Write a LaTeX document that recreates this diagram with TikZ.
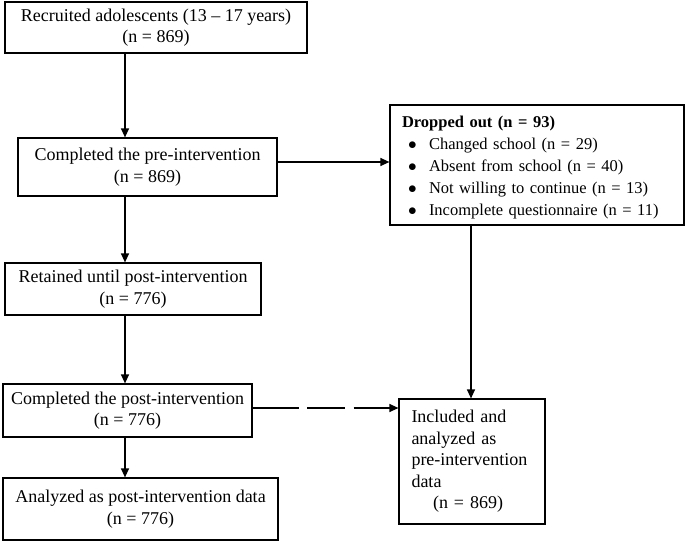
\documentclass[tikz,border=0pt]{standalone}
\usepackage{fontspec}
\setmainfont{Liberation Serif}
\usetikzlibrary{arrows.meta}
\begin{document}
\begin{tikzpicture}[x=1pt,y=-1pt,
  box/.style={draw,line width=1.2pt,inner sep=0pt,align=center,font=\fontsize{18}{21.5}\selectfont},
  arr/.style={line width=1.2pt,-{Triangle[length=9pt,width=8pt]}}]
\useasboundingbox (0,0) rectangle (685,541);
\node[box,minimum width=302pt,minimum height=51pt] (b1) at (156,27.5) {Recruited adolescents (13 -- 17 years)\\(n = 869)};
\node[box,minimum width=259pt,minimum height=58pt] (b2) at (147.5,167) {Completed the pre-intervention\\(n = 869)};
\node[box,minimum width=256pt,minimum height=52pt] (b3) at (133,289) {Retained until post-intervention\\(n = 776)};
\node[box,minimum width=249pt,minimum height=53pt] (b4) at (127.5,410.5) {Completed the post-intervention\\(n = 776)};
\node[box,minimum width=275pt,minimum height=62pt] (b5) at (140.5,509) {Analyzed as post-intervention data\\(n = 776)};
\node[box,minimum width=294pt,minimum height=120pt] (drop) at (537,165) {};
\node[inner sep=0pt,align=left,text width=270pt,font=\fontsize{16.5}{22}\selectfont] (droptext) at (537,167.5)
{\textbf{Dropped out (n = 93)}\\
\hspace*{6pt}\makebox[21pt][l]{$\bullet$}Changed school (n = 29)\\
\hspace*{6pt}\makebox[21pt][l]{$\bullet$}Absent from school (n = 40)\\
\hspace*{6pt}\makebox[21pt][l]{$\bullet$}Not willing to continue (n = 13)\\
\hspace*{6pt}\makebox[21pt][l]{$\bullet$}Incomplete questionnaire (n = 11)};
\node[box,minimum width=146pt,minimum height=125pt,align=left,text width=121pt,inner xsep=12.5pt] (inc) at (472,461.5)
{Included and\\analyzed as\\pre-intervention\\data\\\hspace*{21.5pt}(n = 869)};
\coordinate (ax) at (125,0);
\coordinate (dx) at (471,0);
\coordinate (hy) at (0,162);
\coordinate (dy) at (0,408);
\draw[arr] (b1.south -| ax) -- (b2.north -| ax);
\draw[arr] (b2.south -| ax) -- (b3.north -| ax);
\draw[arr] (b3.south -| ax) -- (b4.north -| ax);
\draw[arr] (b4.south -| ax) -- (b5.north -| ax);
\draw[arr] (b2.east |- hy) -- (drop.west |- hy);
\draw[arr] (drop.south -| dx) -- (inc.north -| dx);
\draw[arr,dash pattern=on 46pt off 8.5pt on 38pt off 8.5pt on 60pt] (b4.east |- dy) -- (inc.west |- dy);
\end{tikzpicture}
\end{document}
